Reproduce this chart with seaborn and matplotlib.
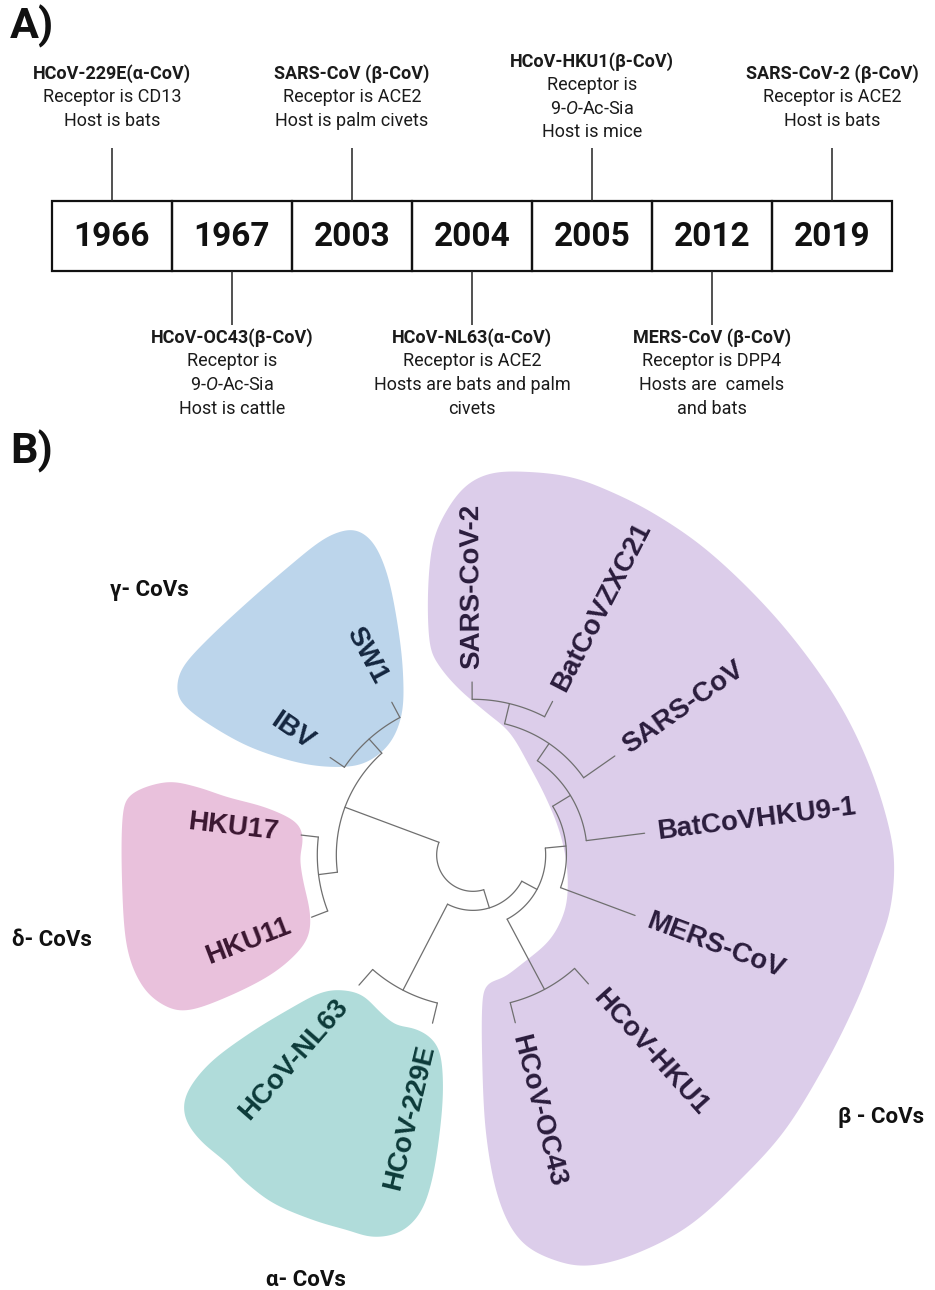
import numpy as np
import pandas as pd
import matplotlib
matplotlib.use("Agg")
import matplotlib.pyplot as plt
import seaborn as sns

sns.set_theme(style="white")
plt.rcParams["font.family"] = ["Roboto", "DejaVu Sans"]
plt.rcParams["mathtext.fontset"] = "custom"
plt.rcParams["mathtext.rm"] = "Roboto"
plt.rcParams["mathtext.it"] = "Roboto:italic"

# ── A) timeline data ─────────────────────────────────────────
YEARS = ["1966", "1967", "2003", "2004", "2005", "2012", "2019"]
VIRUS = ["HCoV-229E(α-CoV)", "HCoV-OC43(β-CoV)", "SARS-CoV (β-CoV)",
         "HCoV-NL63(α-CoV)", "HCoV-HKU1(β-CoV)", "MERS-CoV (β-CoV)",
         "SARS-CoV-2 (β-CoV)"]
RECEPTOR = [["Receptor is CD13"],
            ["Receptor is", "9-$\\mathit{O}$-Ac-Sia"],
            ["Receptor is ACE2"],
            ["Receptor is ACE2"],
            ["Receptor is", "9-$\\mathit{O}$-Ac-Sia"],
            ["Receptor is DPP4"],
            ["Receptor is ACE2"]]
HOST = [["Host is bats"],
        ["Host is cattle"],
        ["Host is palm civets"],
        ["Hosts are bats and palm", "civets"],
        ["Host is mice"],
        ["Hosts are  camels", "and bats"],
        ["Host is bats"]]
SIDE = ["above", "below", "above", "below", "above", "below", "above"]

# ── B) tree data (node depth as fraction of tip radius) ─────
TREE = ("root", 0.21, [
    ("gamma/delta", 0.79, [
        ("gamma", 0.90, ["SW1", "IBV"]),
        ("delta", 0.90, ["HKU17", "HKU11"])]),
    ("alpha/beta", 0.32, [
        ("alpha", 0.88, ["HCoV-NL63", "HCoV-229E"]),
        ("beta", 0.42, [
            ("beta-A", 0.88, ["HCoV-OC43", "HCoV-HKU1"]),
            ("beta-B", 0.54, ["MERS-CoV",
                ("beta-C", 0.66, ["BatCoVHKU9-1",
                    ("beta-D", 0.78, ["SARS-CoV",
                        ("beta-E", 0.90, ["BatCoVZXC21", "SARS-CoV-2"])])])])])])])

GAMMA = ["SW1", "IBV"]
DELTA = ["HKU17", "HKU11"]
ALPHA = ["HCoV-NL63", "HCoV-229E"]
BETA = ["HCoV-OC43", "HCoV-HKU1", "MERS-CoV", "BatCoVHKU9-1",
        "SARS-CoV", "BatCoVZXC21", "SARS-CoV-2"]
CLADE_NAMES = ["γ- CoVs", "δ- CoVs", "α- CoVs", "β - CoVs"]

# ── styling / layout ─────────────────────────────────────────
W, H = 935, 1290
BOX_X0, BOX_W, BOX_TOP, BOX_H = 52, 120, 201, 70
CX, CY, TIP_R = 473, 855, 173
START_ANGLE = 118
TEXT_DARK = "#1b1b1b"
CLADE_FILL = {"g": "#bcd5eb", "d": "#e9c1dc", "a": "#b0dcda", "b": "#dccdea"}
CLADE_TEXT = {"g": "#14263f", "d": "#3a1630", "a": "#0c3a39", "b": "#2a1c3c"}

# freehand clade highlight outlines (pixel space)
OUTLINES = {
    "g": [(336, 533), (356, 530), (374, 544), (388, 577), (398, 627), (403, 673),
          (402, 713), (390, 743), (367, 762), (340, 767), (300, 763), (250, 747),
          (207, 723), (182, 703), (177, 687), (183, 667), (207, 640), (250, 600),
          (293, 563), (318, 543)],
    "d": [(167, 782), (197, 787), (227, 797), (267, 808), (297, 823), (303, 840),
          (300, 857), (303, 880), (310, 913), (308, 937), (293, 957), (267, 977),
          (227, 997), (190, 1010), (167, 1007), (143, 987), (127, 947), (122, 880),
          (123, 813), (133, 793)],
    "a": [(340, 990), (362, 995), (380, 1012), (396, 1025), (413, 1028), (430, 1037),
          (440, 1053), (443, 1087), (440, 1130), (432, 1180), (420, 1213), (400, 1232),
          (373, 1237), (347, 1230), (313, 1220), (273, 1203), (243, 1180), (227, 1163),
          (200, 1140), (185, 1117), (187, 1093), (210, 1063), (250, 1033), (293, 1007),
          (320, 993)],
    "b": [(433, 543), (447, 510), (467, 485), (493, 473), (530, 472), (570, 477),
          (607, 490), (653, 513), (703, 547), (753, 593), (797, 643), (837, 700),
          (865, 755), (885, 812), (894, 860), (890, 910), (875, 955), (855, 1005),
          (825, 1065), (785, 1130), (740, 1180), (690, 1225), (640, 1252), (595, 1265),
          (560, 1262), (522, 1242), (499, 1200), (486, 1133), (482, 1050), (483, 995),
          (490, 982), (503, 978), (523, 963), (547, 943), (560, 923), (567, 900),
          (567, 867), (560, 833), (547, 800), (530, 767), (510, 733), (487, 713),
          (460, 690), (440, 667), (430, 645), (428, 593)],
}
CLADE_LABEL_POS = {"g": (110, 590), "d": (12, 940), "a": (266, 1280), "b": (838, 1117)}


def smooth_closed(pts, n=24, sigma=6.0):
    P = np.asarray(pts, float)
    N = len(P)
    t = np.linspace(0, 1, n, endpoint=False)[:, None]
    out = []
    for i in range(N):
        p0, p1, p2, p3 = P[i - 1], P[i], P[(i + 1) % N], P[(i + 2) % N]
        out.append(0.5 * (2 * p1 + (-p0 + p2) * t
                          + (2 * p0 - 5 * p1 + 4 * p2 - p3) * t ** 2
                          + (-p0 + 3 * p1 - 3 * p2 + p3) * t ** 3))
    C = np.vstack(out)
    # resample by arc length, then circular gaussian smoothing
    Cc = np.vstack([C, C[:1]])
    d = np.r_[0, np.cumsum(np.hypot(*np.diff(Cc, axis=0).T))]
    s = np.arange(0, d[-1], 1.0)
    R = np.c_[np.interp(s, d, Cc[:, 0]), np.interp(s, d, Cc[:, 1])]
    k = np.arange(-int(3 * sigma), int(3 * sigma) + 1)
    g = np.exp(-0.5 * (k / sigma) ** 2)
    g /= g.sum()
    M = len(R)
    idx = (np.arange(M)[:, None] + k[None, :]) % M
    return np.c_[(R[idx, 0] * g).sum(1), (R[idx, 1] * g).sum(1)]


def polar(r, deg):
    a = np.deg2rad(deg)
    return CX + r * np.cos(a), CY - r * np.sin(a)


def leaf_order(node):
    if isinstance(node, str):
        return [node]
    return [l for k in node[2] for l in leaf_order(k)]


LEAVES = leaf_order(TREE)
leaf_angle = {n: START_ANGLE + i * 360 / len(LEAVES) for i, n in enumerate(LEAVES)}

segments = []


def layout(node):
    if isinstance(node, str):
        return leaf_angle[node], 1.0
    _, depth, kids = node
    info = [layout(k) for k in kids]
    angs = [a for a, _ in info]
    th = np.linspace(min(angs), max(angs), 60)
    segments.append(polar(depth * TIP_R, th))
    for a, d in info:
        segments.append(polar(np.array([depth, d]) * TIP_R, np.array([a, a])))
    return (min(angs) + max(angs)) / 2, depth


layout(TREE)

rows = []
for i, (xs, ys) in enumerate(segments):
    for x, y in zip(np.atleast_1d(xs), np.atleast_1d(ys)):
        rows.append({"seg": i, "x": x, "y": y})
tree_df = pd.DataFrame(rows)

# ── figure ───────────────────────────────────────────────────
fig = plt.figure(figsize=(W / 100, H / 100), dpi=100)
ax = fig.add_axes([0, 0, 1, 1])

# panel A
centers = BOX_X0 + BOX_W * (np.arange(len(YEARS)) + 0.5)
ax.bar(centers, BOX_H, width=BOX_W, bottom=BOX_TOP, fill=False,
       edgecolor="#111111", linewidth=1.6, zorder=2)
for i, (cx, yr) in enumerate(zip(centers, YEARS)):
    ax.text(cx, BOX_TOP + BOX_H / 2 + 1, yr, ha="center", va="center",
            fontsize=24, fontweight="bold", color="#111111")
    lines = [VIRUS[i]] + RECEPTOR[i] + HOST[i]
    n = len(lines)
    if SIDE[i] == "above":
        ax.vlines(cx, 148, BOX_TOP, color="#222222", lw=1.1)
        ys = 97 + (np.arange(n) - (n - 1) / 2) * 23.5
    else:
        ax.vlines(cx, BOX_TOP + BOX_H, 325, color="#222222", lw=1.1)
        ys = 338 + np.arange(n) * 23.5
    for j, (txt, y) in enumerate(zip(lines, ys)):
        ax.text(cx, y, txt, ha="center", va="center", fontsize=13,
                fontweight="bold" if j == 0 else "normal", color=TEXT_DARK)

ax.text(10, 26, "A)", fontsize=31, fontweight="bold", va="center", ha="left",
        color="#111111")
ax.text(10, 451, "B)", fontsize=31, fontweight="bold", va="center", ha="left",
        color="#111111")

# panel B: clade highlights
for key, pts in OUTLINES.items():
    sm = smooth_closed(pts)
    ax.fill(sm[:, 0], sm[:, 1], color=CLADE_FILL[key], lw=0, zorder=0)

# tree branches
sns.lineplot(data=tree_df, x="x", y="y", units="seg", estimator=None, sort=False,
             color="#6f6f6f", linewidth=0.9, ax=ax, legend=False, zorder=3)

# leaf labels
clade_of = {}
for key, members in zip("gdab", [GAMMA, DELTA, ALPHA, BETA]):
    for m in members:
        clade_of[m] = key
for name in LEAVES:
    a = (leaf_angle[name] + 180) % 360 - 180
    if -90 < a <= 100:
        x, y = polar(186, a)
        rot, ha = a, "left"
    else:
        x, y = polar(196, a)
        rot, ha = a - 180 if a > 0 else a + 180, "right"
    ax.text(x, y, name, rotation=rot, rotation_mode="anchor", ha=ha, va="center",
            fontsize=20, fontweight="bold", family=["Liberation Sans", "DejaVu Sans"],
            color=CLADE_TEXT[clade_of[name]], zorder=4)

for key, lab in zip("gdab", CLADE_NAMES):
    x, y = CLADE_LABEL_POS[key]
    ax.text(x, y, lab, ha="left", va="center", fontsize=16, fontweight="bold",
            color="#111111")

ax.set_xlim(0, W)
ax.set_ylim(H, 0)
ax.axis("off")
fig.savefig("out.png", dpi=100)
plt.close(fig)
